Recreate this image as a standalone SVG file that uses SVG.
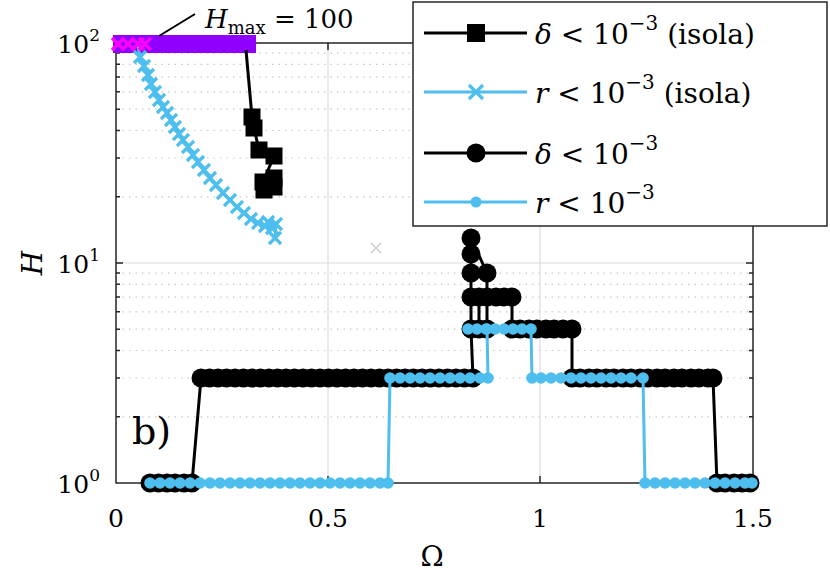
<svg xmlns="http://www.w3.org/2000/svg" width="830" height="587" viewBox="0 0 830 587" font-family="'DejaVu Serif', 'Liberation Serif', serif">
<style>
text{font-family:'DejaVu Serif','Liberation Serif',serif;fill:#000}
.it{font-style:italic}
.mg{stroke:#c8c8c8;stroke-width:1.2;stroke-dasharray:1.5 5;fill:none}
.g{stroke:#dcdcdc;stroke-width:1.2;fill:none}
.ax{stroke:#262626;stroke-width:1.5;fill:none}
.blk{stroke:#000;stroke-width:3;fill:none}
.blu{stroke:#4DBEEE;stroke-width:3;fill:none}
</style>
<defs>
<marker id="mc" markerUnits="userSpaceOnUse" markerWidth="22" markerHeight="22" refX="11" refY="11" viewBox="0 0 22 22"><circle cx="11" cy="11" r="9.5" fill="#000"/></marker>
<marker id="md" markerUnits="userSpaceOnUse" markerWidth="14" markerHeight="14" refX="7" refY="7" viewBox="0 0 14 14"><circle cx="7" cy="7" r="5.8" fill="#4DBEEE"/></marker>
<marker id="mx" markerUnits="userSpaceOnUse" markerWidth="18" markerHeight="18" refX="9" refY="9" viewBox="0 0 18 18"><path d="M3 3L15 15M15 3L3 15" stroke="#4DBEEE" stroke-width="3.2"/></marker>
<marker id="mm" markerUnits="userSpaceOnUse" markerWidth="18" markerHeight="18" refX="9" refY="9" viewBox="0 0 18 18"><path d="M3 3L15 15M15 3L3 15" stroke="#ff00ff" stroke-width="3.2"/></marker>
<marker id="ms" markerUnits="userSpaceOnUse" markerWidth="20" markerHeight="20" refX="10" refY="10" viewBox="0 0 20 20"><rect x="1.5" y="1.5" width="17" height="17" fill="#000"/></marker>
</defs>
<rect width="830" height="587" fill="#fff"/>
<g id="grid">
<path class="mg" d="M116 416.8H753M116 378H753M116 350.5H753M116 329.2H753M116 311.8H753M116 297.1H753M116 284.3H753M116 273.1H753M116 196.8H753M116 158H753M116 130.5H753M116 109.2H753M116 91.8H753M116 77.1H753M116 64.3H753M116 53.1H753"/>
<path class="g" d="M116 263H753M328 43V483M540 43V483"/>
</g>
<g id="axes">
<rect class="ax" x="116" y="43" width="637" height="440"/>
<path class="ax" d="M328 483v-7M540 483v-7M328 43v7M540 43v7M116 263h7M753 263h-7
M116 416.8h4M116 378h4M116 350.5h4M116 329.2h4M116 311.8h4M116 297.1h4M116 284.3h4M116 273.1h4M116 196.8h4M116 158h4M116 130.5h4M116 109.2h4M116 91.8h4M116 77.1h4M116 64.3h4M116 53.1h4
M753 416.8h-4M753 378h-4M753 350.5h-4M753 329.2h-4M753 311.8h-4M753 297.1h-4M753 284.3h-4M753 273.1h-4M753 196.8h-4M753 158h-4M753 130.5h-4M753 109.2h-4M753 91.8h-4M753 77.1h-4M753 64.3h-4M753 53.1h-4"/>
</g>
<g id="connectors">
<polyline class="blk" marker-start="url(#mc)" marker-mid="url(#mc)" marker-end="url(#mc)" points="150,483 158.5,483 167,483 175,483 184,483 192,483 201,378 209.5,378 218,378 226.5,378 235,378 243.5,378 252,378 260.5,378 269,378 277.5,378 286,378 294.5,378 303,378 311.5,378 320,378 328.5,378 337,378 345.5,378 354,378 362.5,378 371,378 379.5,378 388,378 396.5,378 405,378 413.5,378 422,378 430.5,378 439,378 447.5,378 456,378 464.5,378 473,378 471,329 471,297 471,273 471,254 471,238 487,273 487,297 487,329 479,329 479,297 496,297 504,297 512,297 512,329 520,329 529,329 537,329 546,329 554,329 563,329 572,329 572,378 580,378 589,378 597,378 606,378 614,378 623,378 631,378 640,378 648,378 657,378 665,378 674,378 682,378 691,378 699,378 708,378 713,378 717,483 725,483 734,483 742,483 750,483"/>
<polyline class="blu" marker-start="url(#md)" marker-mid="url(#md)" marker-end="url(#md)" points="150,483 160,483 170,483 180,483 190,483 200,483 210,483 220,483 230,483 240,483 250,483 260,483 270,483 280,483 290,483 300,483 310,483 320,483 330,483 340,483 350,483 360,483 370,483 380,483 388,483 390,378 400,378 410,378 420,378 430,378 440,378 450,378 460,378 470,378 480,378 488,378 487,329 468,329 477,329 486,329 495,329 504,329 513,329 522,329 531,329 532,378 541,378 551,378 561,378 571,378 581,378 591,378 601,378 611,378 621,378 631,378 643,378 645,483 655,483 665,483 675,483 685,483 695,483 705,483 715,483 725,483 735,483 745,483 752,483"/>
<rect x="113" y="35" width="143" height="18" fill="#8f00ff"/>
<polyline class="blk" marker-end="url(#ms)" points="246,50 252,117"/>
<polyline class="blk" marker-mid="url(#ms)" marker-end="url(#ms)" points="252,117 254,128 259,150 274,156 263,182 274,178 274,187 264,190"/>
<polyline class="blu" marker-mid="url(#mx)" marker-end="url(#mx)" points="138,46 140,57 144,66 148,75 151,84 155,92 159,100 163,107 167,113 171,120 175,127 179,134 183,140 188,147 193,155 198,162 204,170 210,178 216,185 223,193 230,200 237,207 244,213 251,219 258,223 265,226 272,228 268,222 276,224 275,238"/>
<polyline fill="none" stroke="none" marker-start="url(#mm)" marker-mid="url(#mm)" marker-end="url(#mm)" points="118,44 128,44 138,44 145,44"/>
<path d="M371 243l10 10M381 243l-10 10" stroke="#c8c8c8" stroke-width="1.2"/>
<path d="M159 36L195 14" stroke="#000" stroke-width="2"/>
</g>
<g id="labels">
<text x="205" y="28" font-size="26"><tspan class="it">H</tspan><tspan font-size="18" dy="6">max</tspan><tspan dy="-6"> = 100</tspan></text>
<text x="132" y="444" font-size="38">b)</text>
<g font-size="25" text-anchor="end">
<text x="100" y="493">10<tspan font-size="17" dy="-12">0</tspan></text>
<text x="100" y="273">10<tspan font-size="17" dy="-12">1</tspan></text>
<text x="100" y="53">10<tspan font-size="17" dy="-12">2</tspan></text>
</g>
<g font-size="25" text-anchor="middle">
<text x="116" y="527">0</text>
<text x="328" y="527">0.5</text>
<text x="540" y="527">1</text>
<text x="753" y="527">1.5</text>
<text x="432" y="566" font-size="28">Ω</text>
</g>
<text class="it" font-size="28" transform="translate(42,263) rotate(-90)" text-anchor="middle">H</text>
</g>
<g id="legend">
<rect x="413" y="2" width="414" height="224" fill="#fff" stroke="#262626" stroke-width="1.5"/>
<path d="M424 33H527" stroke="#000" stroke-width="3"/><rect x="467" y="24" width="18" height="18"/>
<path d="M424 92H527" stroke="#4DBEEE" stroke-width="3"/><path d="M469 85l14 14M483 85l-14 14" stroke="#4DBEEE" stroke-width="3.2"/>
<path d="M424 153H527" stroke="#000" stroke-width="3"/><circle cx="476" cy="153" r="9.5"/>
<path d="M424 202H527" stroke="#4DBEEE" stroke-width="3"/><circle cx="476" cy="202" r="5.5" fill="#4DBEEE"/>
<g font-size="28">
<text x="535" y="44"><tspan class="it">δ</tspan> &lt; 10<tspan font-size="20" dy="-14">−3</tspan><tspan dy="14"> (isola)</tspan></text>
<text x="535" y="103"><tspan class="it">r</tspan> &lt; 10<tspan font-size="20" dy="-14">−3</tspan><tspan dy="14"> (isola)</tspan></text>
<text x="535" y="164"><tspan class="it">δ</tspan> &lt; 10<tspan font-size="20" dy="-14">−3</tspan></text>
<text x="535" y="213"><tspan class="it">r</tspan> &lt; 10<tspan font-size="20" dy="-14">−3</tspan></text>
</g>
</g>
</svg>
